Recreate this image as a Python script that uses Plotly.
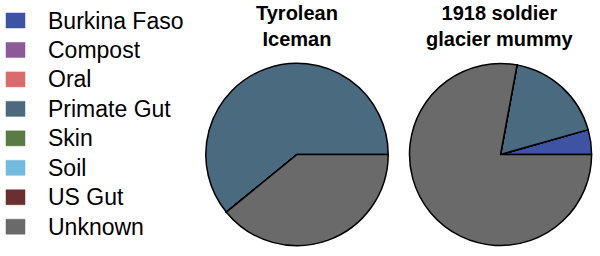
import plotly.graph_objects as go

categories = ["Burkina Faso", "Compost", "Oral", "Primate Gut", "Skin", "Soil", "US Gut", "Unknown"]
colors = ["#3f53a4", "#8c5a96", "#d96b6d", "#4a6a80", "#5b7b44", "#72bade", "#6c2f30", "#6a6a6a"]
iceman_values = [0, 0, 0, 60.9, 0, 0, 0, 39.1]
soldier_values = [4.4, 0, 0, 17.7, 0, 0, 0, 77.9]
titles = ["Tyrolean<br>Iceman", "1918 soldier<br>glacier mummy"]

font_family = "Arial, Liberation Sans, sans-serif"
W, H = 600, 256


def start_rotation(vals):
    # plotly offsets counterclockwise pies by the first slice; compensate so slices start at 3 o'clock
    return 90 - 360 * vals[0] / sum(vals)


fig = go.Figure()
for vals, dom in [(iceman_values, [0.343, 0.647]), (soldier_values, [0.6825, 0.986])]:
    fig.add_trace(go.Pie(
        labels=categories, values=vals, sort=False, direction="counterclockwise",
        rotation=start_rotation(vals), textinfo="none",
        marker=dict(colors=colors, line=dict(color="black", width=1.5)),
        domain=dict(x=dom, y=[0.037, 0.756]), showlegend=False,
    ))

for t, xc in zip(titles, [297, 500.5]):
    fig.add_annotation(text="<b>" + t + "</b>", x=xc / W, y=1.0, xref="paper", yref="paper",
                       xanchor="center", yanchor="top", showarrow=False,
                       font=dict(family=font_family, size=20, color="black"))

# manual legend
y0, step = 20.5, 29.46
for i, (lab, col) in enumerate(zip(categories, colors)):
    yc = y0 + i * step
    fig.add_shape(type="rect", xref="paper", yref="paper",
                  x0=6 / W, x1=25 / W, y0=1 - (yc - 7.5) / H, y1=1 - (yc + 7.5) / H,
                  fillcolor=col, line=dict(color=col, width=0.5))
    fig.add_annotation(text=lab, x=46 / W, y=1 - yc / H, xref="paper", yref="paper",
                       xanchor="left", yanchor="middle", showarrow=False,
                       font=dict(family=font_family, size=23, color="black"))

fig.update_layout(
    width=W, height=H, margin=dict(l=0, r=0, t=0, b=0),
    paper_bgcolor="white", plot_bgcolor="white",
)
fig.write_html("out.html")
